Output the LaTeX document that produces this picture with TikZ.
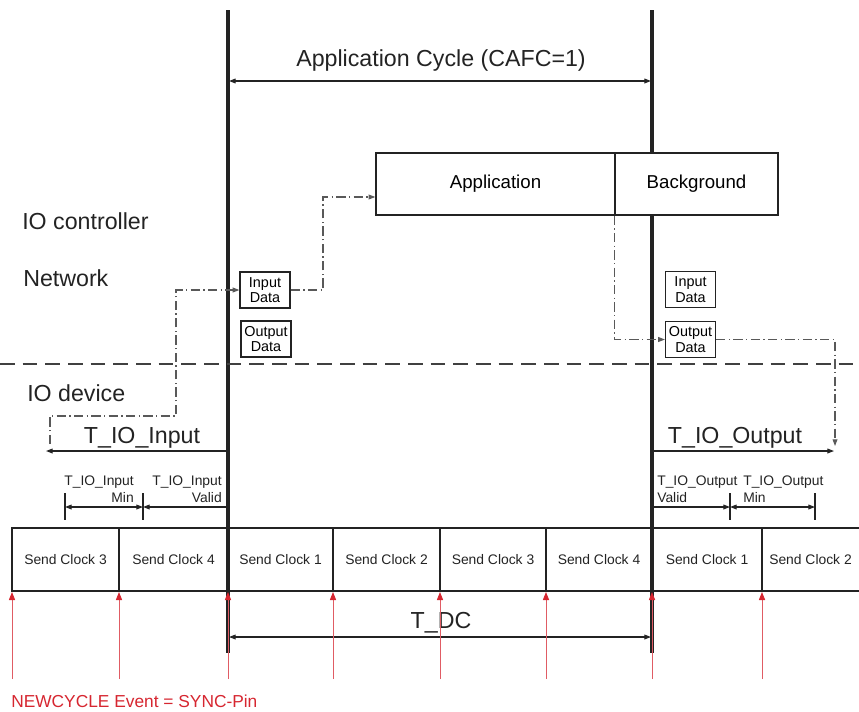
\documentclass[tikz,border=0pt]{standalone}
\usepackage{fontspec}
\setmainfont{Liberation Sans}
\usetikzlibrary{arrows.meta}
\definecolor{syncred}{RGB}{214,38,48}
\definecolor{ink}{RGB}{35,35,35}
\begin{document}
\begin{tikzpicture}[x=0.75pt,y=-0.75pt,
	>={Triangle[length=5pt,width=3.6pt]},
	bigtext/.style={inner sep=0pt,anchor=base,text=ink,font=\fontsize{17.4}{20}\selectfont},
	smalltext/.style={inner sep=0pt,text=ink,font=\fontsize{10.4}{12.6}\selectfont},
	box/.style={draw=ink,line width=1pt,fill=white,inner sep=0pt,minimum height=46.5pt,
		font=\fontsize{14}{16}\selectfont},
	databox/.style={draw=ink,line width=0.9pt,fill=white,inner sep=0.5pt,align=center,
		minimum width=37.5pt,minimum height=27pt,font=\fontsize{10.8}{11.8}\selectfont},
	flow/.style={draw=black!65,line width=0.8pt,dash pattern=on 7pt off 2.5pt on 1pt off 2.5pt},
	dim/.style={draw=ink,line width=0.8pt},
	sync/.style={draw=syncred!75,line width=0.7pt,
		-{Triangle[length=6pt,width=4.6pt,color=syncred,fill=syncred]}}]
	\useasboundingbox (0,0) rectangle (859,711);

	% cycle borders and network line
	\coordinate (topL) at (228,10); \coordinate (botL) at (228,653);
	\coordinate (topR) at (652,10); \coordinate (botR) at (652,653);
	\draw[line width=2.7pt,ink] (topL) -- (botL) (topR) -- (botR);
	\coordinate (netL) at (0,364); \coordinate (netR) at (859,364);
	\draw[line width=1.5pt,black!75,dash pattern=on 11pt off 6pt] (netL) -- (netR);

	% layers
	\node[bigtext,anchor=base west] (ctrl) at (22,229) {IO controller};
	\node[bigtext,anchor=base west] (net) at (23,286) {Network};
	\node[bigtext,anchor=base west] (dev) at (27,401) {IO device};

	% application cycle
	\node[bigtext] (cyc) at (441,66) {Application Cycle (CAFC=1)};
	\coordinate (cycL) at (229,81); \coordinate (cycR) at (651,81);
	\draw[dim,<->] (cycL) -- (cycR);

	\node[box,minimum width=179.25pt] (app) at (495.5,184) {Application};
	\node[box,minimum width=122.25pt] (bg) at (696.5,184) {Background};

	\node[databox] (inL) at (265,290) {Input\\Data};
	\node[databox] (outL) at (266,339) {Output\\Data};
	\node[databox] (inR) at (690.5,289.5) {Input\\Data};
	\node[databox] (outR) at (690.5,339.5) {Output\\Data};

	% data flow
	\coordinate (inStart) at (50,444);
	\coordinate (b1) at (176,416);
	\coordinate (b2) at (323,197);
	\coordinate (outEnd) at (835,446);
	\draw[flow,->] (inStart) |- (b1) |- (inL.west);
	\draw[flow,->] (inL.east) -| (b2) -- (b2 -| app.west);
	\draw[flow,->] (bg.south west) |- (outR.west);
	\draw[flow,->] (outR.east) -| (outEnd);

	% IO times
	\node[bigtext] (tin) at (142,443) {T\_IO\_Input};
	\node[bigtext] (tout) at (735,443) {T\_IO\_Output};
	\coordinate (tinA) at (229,451); \coordinate (tinB) at (46,451);
	\coordinate (toutA) at (651,451); \coordinate (toutB) at (834,451);
	\draw[dim,->] (tinA) -- (tinB);
	\draw[dim,->] (toutA) -- (toutB);

	\node[smalltext,align=right,anchor=south east] (inMin) at (134,503) {T\_IO\_Input\\Min};
	\node[smalltext,align=right,anchor=south east] (inValid) at (222,503) {T\_IO\_Input\\Valid};
	\node[smalltext,align=left,anchor=south west] (outValid) at (657,503) {T\_IO\_Output\\Valid};
	\node[smalltext,align=left,anchor=south west] (outMin) at (743,503) {T\_IO\_Output\\Min};

	\foreach \n/\x in {t1/65,t2/143,t3/730,t4/815}{
		\coordinate (\n a) at (\x,493); \coordinate (\n b) at (\x,520);
		\draw[dim] (\n a) -- (\n b);
	}
	\draw[dim,<->] (t1a |- 0,507) -- (t2a |- 0,507);
	\draw[dim,->] (tinA |- 0,507) -- (t2a |- 0,507);
	\draw[dim,->] (toutA |- 0,507) -- (t3a |- 0,507);
	\draw[dim,<->] (t3a |- 0,507) -- (t4a |- 0,507);

	% send clocks
	\coordinate (barNW) at (12,528); \coordinate (barNE) at (859,528);
	\coordinate (barSW) at (12,591); \coordinate (barSE) at (859,591);
	\draw[ink,line width=1.2pt] (barNE) -- (barNW) -- (barSW) -- (barSE);
	\foreach \a/\b/\k [count=\i] in {12/119/3,119/228/4,228/333/1,333/440/2,
			440/546/3,546/652/4,652/762/1,762/859/2}{
		\node[smalltext] (sc\i) at ({(\a+\b)/2},560) {Send Clock \k};
		\coordinate (ev\i) at (\b,591);
	}
	\foreach \x in {119,333,440,546,762}
		\draw[ink,line width=1.2pt] (\x,528) -- (\x,591);

	% T_DC
	\node[bigtext] (tdc) at (441,628) {T\_DC};
	\coordinate (dcL) at (229,637); \coordinate (dcR) at (651,637);
	\draw[dim,<->] (dcL) -- (dcR);

	% sync events
	\foreach \x [count=\i] in {12,119,228,333,440,546,652,762}{
		\coordinate (pin\i) at (\x,679);
		\coordinate (tip\i) at (\x,592);
		\draw[sync] (pin\i) -- (tip\i);
	}
	\node[inner sep=0pt,anchor=base west,text=syncred,font=\fontsize{13}{15}\selectfont]
		(newcyc) at (11,707) {NEWCYCLE Event = SYNC-Pin};
\end{tikzpicture}
\end{document}
